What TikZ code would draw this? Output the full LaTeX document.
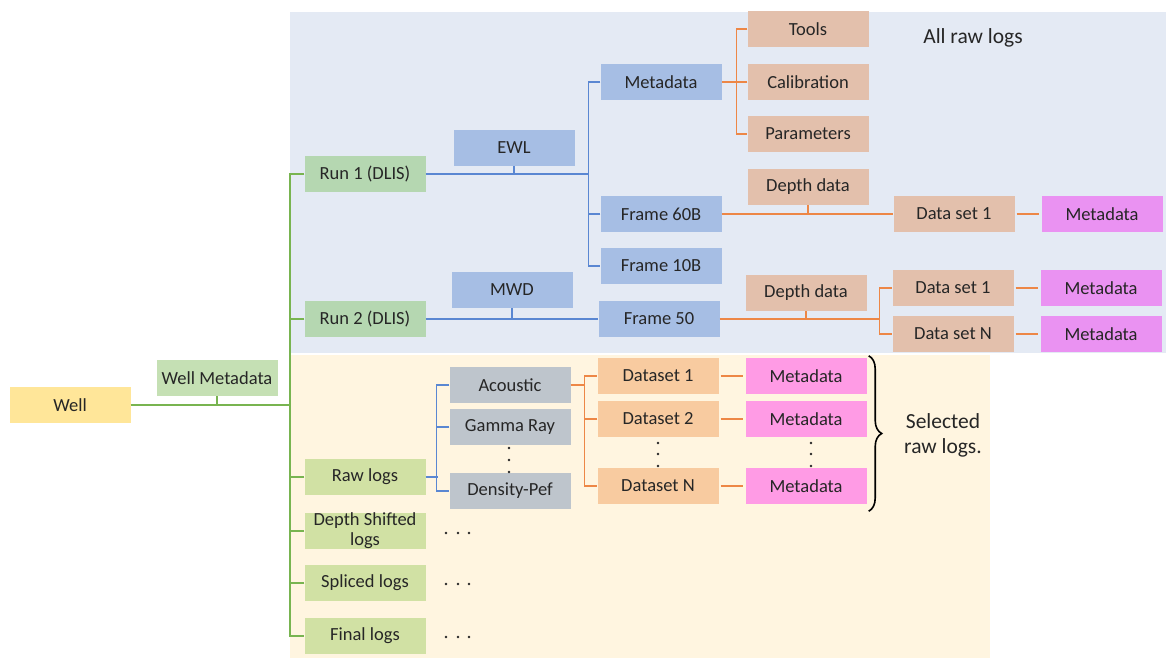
\documentclass[tikz,border=0pt]{standalone}
\usepackage{fontspec}
\setmainfont{Carlito}
\usetikzlibrary{decorations.pathreplacing}

\definecolor{bluebg}{RGB}{228,234,244}
\definecolor{creambg}{RGB}{255,245,224}
\definecolor{wellc}{RGB}{255,230,153}
\definecolor{metac}{RGB}{197,224,180}
\definecolor{runc}{RGB}{181,215,177}
\definecolor{logc}{RGB}{209,225,164}
\definecolor{bluec}{RGB}{166,190,228}
\definecolor{peachc}{RGB}{227,192,172}
\definecolor{grayc}{RGB}{190,197,204}
\definecolor{setc}{RGB}{248,203,160}
\definecolor{violetc}{RGB}{234,146,242}
\definecolor{pinkc}{RGB}{255,155,229}
\definecolor{gline}{RGB}{120,180,80}
\definecolor{bline}{RGB}{90,135,210}
\definecolor{oline}{RGB}{237,135,70}

\begin{document}
\begin{tikzpicture}[x=1pt, y=-1pt,
  every node/.style={font=\fontsize{18.5}{20}\selectfont, text=black!85},
  box/.style={minimum width=121pt, minimum height=36pt, inner sep=0pt, align=center},
  bigtext/.style={align=center, font=\fontsize{21.5}{25}\selectfont},
  grn/.style={draw=gline, line width=1.6pt},
  blu/.style={draw=bline, line width=1.6pt},
  org/.style={draw=oline, line width=1.6pt}]
  \useasboundingbox (0,0) rectangle (1166,658);

  % background panels
  \fill[bluebg] (290,12) rectangle (1166,353);
  \fill[creambg] (290,355) rectangle (990,658);

  % root
  \node[box, fill=wellc] (well) at (70,405) {Well};
  \node[box, fill=metac] (wellmeta) at (217,378) {Well Metadata};

  % runs
  \node[box, fill=runc] (run1) at (365,174) {Run 1 (DLIS)};
  \node[box, fill=runc] (run2) at (365,319) {Run 2 (DLIS)};
  \node[box, fill=bluec] (ewl) at (514,148) {EWL};
  \node[box, fill=bluec] (mwd) at (512,290) {MWD};
  \node[box, fill=bluec] (meta) at (661,82) {Metadata};
  \node[box, fill=bluec] (f60) at (661,214) {Frame 60B};
  \node[box, fill=bluec] (f10) at (661,266) {Frame 10B};
  \node[box, fill=bluec] (f50) at (659,319) {Frame 50};
  \node[box, fill=peachc] (tools) at (808,29) {Tools};
  \node[box, fill=peachc] (calib) at (808,82) {Calibration};
  \node[box, fill=peachc] (params) at (808,134) {Parameters};
  \node[box, fill=peachc] (depth1) at (808,187) {Depth data};
  \node[box, fill=peachc] (depth2) at (806,293) {Depth data};
  \node[box, fill=peachc] (dsa) at (954,214) {Data set 1};
  \node[box, fill=peachc] (dsb) at (953,288) {Data set 1};
  \node[box, fill=peachc] (dsn) at (953,334) {Data set N};
  \node[box, fill=violetc] (mda) at (1102,214) {Metadata};
  \node[box, fill=violetc] (mdb) at (1101,288) {Metadata};
  \node[box, fill=violetc] (mdn) at (1101,334) {Metadata};
  \node[bigtext] (allraw) at (973,38) {All raw logs};

  % logs
  \node[box, fill=logc] (raw) at (365,477) {Raw logs};
  \node[box, fill=logc] (shifted) at (365,531) {Depth Shifted\\logs};
  \node[box, fill=logc] (spliced) at (365,583) {Spliced logs};
  \node[box, fill=logc] (final) at (365,636) {Final logs};
  \node[box, fill=grayc] (acoustic) at (510,385) {Acoustic};
  \node[box, fill=grayc] (gamma) at (510,427) {Gamma Ray};
  \node[box, fill=grayc] (density) at (510,491) {Density-Pef};
  \node[box, fill=setc] (set1) at (658,376) {Dataset 1};
  \node[box, fill=setc] (set2) at (658,419) {Dataset 2};
  \node[box, fill=setc] (setn) at (658,486) {Dataset N};
  \node[box, fill=pinkc] (md1) at (806,376) {Metadata};
  \node[box, fill=pinkc] (md2) at (806,419) {Metadata};
  \node[box, fill=pinkc] (mdl) at (806,486) {Metadata};
  \node[bigtext] (selected) at (943,435) {Selected\\raw logs.};

  % dots
  \foreach \y in {533,584,637}
    \foreach \x in {446,458,469}
      \fill[black!85] (\x,\y) circle (1.4);
  \foreach \y in {448,460,472}
    \fill[black!85] (509,\y) circle (1.4);
  \foreach \y in {443,454,466} {
    \fill[black!85] (658,\y) circle (1.4);
    \fill[black!85] (811,\y) circle (1.4);
  }

  % green tree
  \coordinate (trunk) at (290,0);
  \draw[grn, line width=2.4pt] (well.east) -- (well.east -| trunk);
  \draw[grn] (wellmeta.south) -- (wellmeta.south |- well.east);
  \draw[grn] (run1.west) -- (run1.west -| trunk) |- (final.west);
  \foreach \n in {run2,raw,shifted,spliced}
    \draw[grn] (\n.west) -- (\n.west -| trunk);

  % blue tree
  \draw[blu] (run1.east) -- ([xshift=-12pt]f60.west |- run1.east);
  \draw[blu] (meta.west) -- ++(-12,0) |- (f10.west);
  \draw[blu] (f60.west) -- ++(-12,0);
  \draw[blu] (ewl.south) -- (ewl.south |- run1.east);
  \draw[blu] (run2.east) -- (f50.west);
  \draw[blu] (mwd.south) -- (mwd.south |- run2.east);
  \draw[blu] (raw.east) -- ++(12,0);
  \draw[blu] (acoustic.west) -- ++(-13,0) |- (density.west);
  \draw[blu] (gamma.west) -- ++(-13,0);

  % orange tree
  \draw[org] (meta.east) -- ++(15,0);
  \draw[org] (tools.west) -- ++(-11,0) |- (params.west);
  \draw[org] (calib.west) -- ++(-11,0);
  \draw[org] (f60.east) -- (dsa.west);
  \draw[org] (depth1.south) -- (depth1.south |- f60.east);
  \draw[org] (f50.east) -| ([xshift=-13pt]dsb.west) -- (dsb.west);
  \draw[org] ([xshift=-13pt]dsb.west) |- (dsn.west);
  \draw[org] (depth2.south) -- (depth2.south |- f50.east);
  \draw[org] (acoustic.east) -| ([xshift=-13pt]set1.west) -- (set1.west);
  \draw[org] ([xshift=-13pt]set1.west) |- (setn.west);
  \draw[org] (set2.west) -- ++(-13,0);
  \foreach \a/\b in {dsa/mda,dsb/mdb,dsn/mdn,set1/md1,set2/md2,setn/mdl}
    \draw[org] ([xshift=2pt]\a.east) -- ([xshift=-2pt]\b.west);

  % brace
  \draw[line width=1.6pt, decorate, decoration={brace, amplitude=13pt}]
    ([xshift=2pt, yshift=2pt]md1.north east) -- ([xshift=2pt, yshift=-7pt]mdl.south east);
\end{tikzpicture}
\end{document}
